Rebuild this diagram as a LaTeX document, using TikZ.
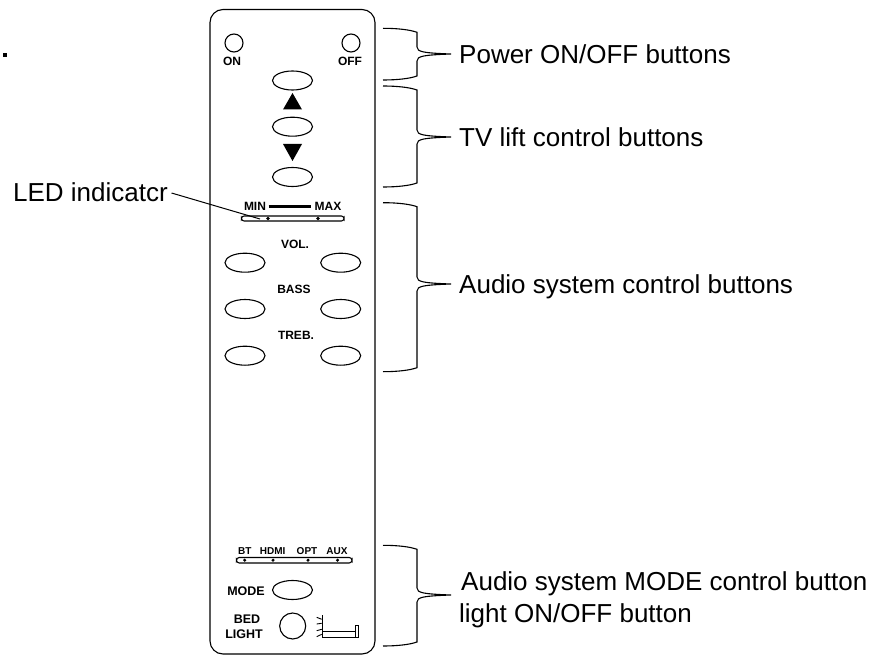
\documentclass[tikz,border=0pt]{standalone}
\usepackage{fontspec}
\setmainfont{Liberation Sans}
\usetikzlibrary{shapes.geometric}
\tikzset{
  outl/.style={draw=black,line width=1.1pt},
  btn/.style={ellipse,outl,minimum width=40pt,minimum height=19pt,inner sep=0pt,fill=white},
  rnd/.style={circle,outl,minimum size=18pt,inner sep=0pt},
  led/.style={circle,fill=black,minimum size=3.8pt,inner sep=0pt},
  panel/.style={font=\bfseries\fontsize{12}{12}\selectfont,inner sep=0pt},
  small/.style={font=\bfseries\fontsize{10}{10}\selectfont,inner sep=0pt},
  callout/.style={font=\fontsize{26}{26}\selectfont,inner sep=0pt,anchor=west},
  brace/.style={draw=black,line width=1.1pt}
}
\newcommand{\bracepath}[4]{% top, tip y, bottom, tip x
  \draw[brace] (383,#1) .. controls (398,#1) and (410,{#1+1.5}) .. (417,{#1+4})
   -- (417,{#2-7}) .. controls (417,{#2-2}) and (424,{#2-1}) .. (#4,#2) .. controls (424,{#2+1}) and (417,{#2+2}) .. (417,{#2+7})
   -- (417,{#3-4}) .. controls (410,{#3-1.5}) and (398,#3) .. (383,#3);
}
\begin{document}
\begin{tikzpicture}[x=1pt,y=-1pt]
\useasboundingbox (0,0) rectangle (879,655);
% panel
\draw[outl,rounded corners=13pt] (210,9.5) rectangle (375,654);
% stray dot
\fill (2.5,53) rectangle (6.5,57);
% power
\node[rnd] (on) at (234,43) {};
\node[rnd] (off) at (351,43) {};
\node[panel] (ontxt) at (232,61) {ON};
\node[panel] (offtxt) at (350,61) {OFF};
% lift
\node[btn] (up) at (292.5,80.5) {};
\node[btn] (stop) at (292.5,126.7) {};
\node[btn] (down) at (292.5,177) {};
\fill (292.5,93) -- (302,109.5) -- (283,109.5) -- cycle;
\fill (292.5,161) -- (302,144) -- (283,144) -- cycle;
% LED bar
\node[panel] (min) at (255,206.5) {MIN};
\node[panel] (max) at (328,206.5) {MAX};
\draw[line width=2.5pt] (min.east)+(2.5,0) -- ([xshift=-3pt]max.west);
\draw[outl,rounded corners=2.6pt] (241.5,216) rectangle (344,221);
\node[led] (l1) at (268,218.5) {};
\node[led] (l2) at (318,218.5) {};
% audio
\node[panel] (vol) at (295,244) {VOL.};
\node[panel] (bass) at (294,289) {BASS};
\node[panel] (treb) at (296,335) {TREB.};
\foreach \n/\y in {a/262.7,b/309,c/355.7}{
  \node[btn] (\n l) at (245,\y) {};
  \node[btn] (\n r) at (340.7,\y) {};
}
% mode bar
\node[small] (bt) at (244.7,550.7) {BT};
\node[small] (hdmi) at (272.7,550.7) {HDMI};
\node[small] (opt) at (307,550.7) {OPT};
\node[small] (aux) at (337,550.7) {AUX};
\draw[outl,rounded corners=2.8pt] (236.5,557.5) rectangle (352,563);
\foreach \n/\x in {m1/244.7,m2/273,m3/308,m4/337.5}{\node[led,minimum size=3.4pt] (\n) at (\x,560.2) {};}
\node[panel,font=\bfseries\fontsize{12.5}{12.5}\selectfont] (mode) at (246,590.7) {MODE};
\node[btn] (modebtn) at (292.5,590) {};
\node[panel,font=\bfseries\fontsize{12.5}{12.5}\selectfont] (bed) at (247,618.7) {BED};
\node[panel,font=\bfseries\fontsize{12.5}{12.5}\selectfont] (light) at (244,634) {LIGHT};
\node[circle,outl,minimum size=26pt,inner sep=0pt] (bedbtn) at (292.7,626) {};
% bed icon
\draw[line width=1.8pt] (322.5,615) -- (322.5,638);
\draw[line width=1pt] (322.5,631.7) -- (356,631.7) (322.5,637.6) -- (359,637.6);
\draw[line width=1pt] (355.9,625.7) rectangle (358.9,637.6);
\draw[line width=.9pt] (321.7,619.3) -- (316.7,617.3) (321.7,623.3) -- (316.7,624) (321.7,629.3) -- (316.7,630.7) (321.7,634.3) -- (316.7,636.7);
% braces
\bracepath{28.3}{54}{80}{451}
\bracepath{86}{137}{187}{451}
\bracepath{202.7}{284}{371.7}{451}
\bracepath{545.3}{595}{646}{451}
% callouts
\node[callout] (t1) at (459,54) {Power ON/OFF buttons};
\node[callout] (t2) at (459,137) {TV lift control buttons};
\node[callout] (t3) at (459,287) {Audio system control buttons};
\node[callout] (t4) at (461,584) {Audio system MODE control button};
\node[callout] (t5) at (459,615.5) {light ON/OFF button};
\node[callout] (led) at (13,192) {LED indicatcr};
\coordinate (ledend) at (260,219);
\draw[line width=1pt] (led.east)+(3.5,1) -- (ledend);
\end{tikzpicture}
\end{document}
